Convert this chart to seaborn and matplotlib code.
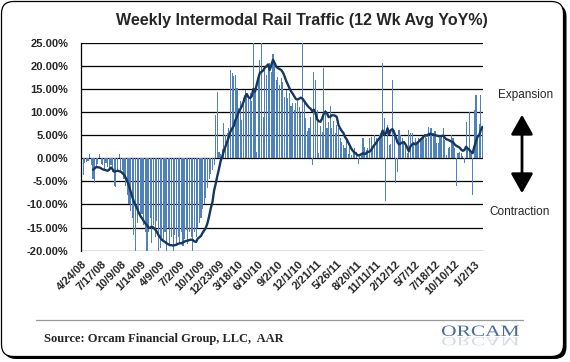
import numpy as np
import pandas as pd
import matplotlib
matplotlib.use('Agg')
import matplotlib.pyplot as plt
import seaborn as sns
from matplotlib.patches import FancyBboxPatch, FancyArrowPatch, PathPatch, ArrowStyle
from matplotlib.lines import Line2D
from matplotlib.textpath import TextPath
from matplotlib.font_manager import FontProperties
from matplotlib.transforms import Affine2D, IdentityTransform

# Weekly intermodal YoY % (bars) and the 12 week average (line)
weekly_yoy = [
    -4.3, -3.6, -1.0, -0.8, -0.5, 0.9, -1.5, -4.5, -5.3, -2.0, -1.2, 0.9,
    -1.2, -1.5, -2.5, -1.0, -2.0, -2.8, -1.5, -3.0, -6.0, -6.2, -2.5, 0.9,
    -3.0, -2.5, -4.5, -6.0, -8.0, -10.0, -11.5, -13.0, -16.5, -20.0, -14.0, -11.5,
    -13.0, -12.0, -14.5, -16.0, -20.0, -16.0, -13.0, -18.4, -14.5, -17.0, -13.5, -20.0,
    -19.5, -17.0, -18.0, -16.0, -20.0, -15.0, -19.0, -17.0, -20.0, -16.5, -19.0, -17.0,
    -18.5, -16.0, -19.0, -17.5, -15.5, -18.5, -16.0, -17.0, -20.0, -16.0, -17.0, -15.0,
    -14.0, -13.0, -11.0, -10.0, -8.5, -6.5, -4.5, -3.5, -2.5, -1.5, 9.4, 14.3,
    1.4, 1.0, 2.0, 7.6, 5.0, 5.5, 6.5, 19.1, 18.5, 17.7, 18.0, 15.1,
    10.8, 12.3, 8.3, 13.0, 14.8, 14.1, 13.0, 14.1, 12.3, 25.0, 15.1, 1.4,
    17.7, 21.3, 25.0, 9.0, 19.5, 18.0, 20.2, 20.5, 18.7, 22.5, 20.9, 16.9,
    17.6, 15.9, 17.3, 16.6, 13.3, 14.8, 13.0, 14.1, 11.2, 11.9, 10.5, 12.0,
    12.3, 11.0, 9.7, 25.0, 12.3, 8.7, 6.0, 6.5, 9.0, -1.4, 18.7, 16.9,
    10.5, 1.1, 7.0, 5.6, 19.5, 10.5, 6.5, 7.9, 11.2, 6.5, 8.0, 5.5,
    7.2, 6.5, 4.3, 3.6, 2.9, 2.2, 4.3, 1.0, 2.9, 0.7, 1.1, 2.2,
    1.4, -1.3, 0.4, 0.9, 4.3, 2.5, 1.8, 2.2, 4.3, 4.5, 2.5, 5.0,
    4.3, 3.6, 5.0, 5.4, 20.5, 8.7, -9.2, 7.2, 2.9, 3.0, 16.9, 6.1,
    -5.4, -2.9, 6.1, 5.0, 4.3, 3.6, 2.9, 1.1, 6.1, 5.4, 5.4, 3.6,
    4.3, 3.2, 4.3, 4.0, 4.3, 4.7, 5.0, 4.3, 6.8, 6.6, 6.5, 5.5,
    5.8, 3.2, 3.2, 4.3, 5.0, 6.5, 4.0, 0.7, 2.2, 2.5, 5.0, 4.4,
    2.2, -6.1, 1.1, 1.4, 1.1, 0.4, -1.1, 7.9, 2.0, 10.1, 1.1, -7.9,
    10.5, 13.7, 4.3, 7.5, 13.7, 6.6,
]

avg_12wk = [
    np.nan, np.nan, np.nan, np.nan, np.nan, np.nan, np.nan, -2.5, -2.2, -1.9, -1.95, -2.0,
    -2.2, -2.4, -2.5, -2.6, -2.7, -2.4, -2.0, -2.4, -2.9, -2.8, -2.7, -2.8,
    -2.9, -3.2, -3.6, -4.2, -5.0, -6.0, -7.2, -8.3, -9.4, -10.2, -10.9, -11.8,
    -12.5, -13.0, -13.6, -14.1, -14.5, -15.1, -15.0, -14.8, -15.0, -15.4, -15.9, -16.6,
    -17.1, -17.6, -17.9, -18.1, -18.4, -18.6, -18.8, -18.8, -18.9, -18.8, -18.7, -18.5,
    -18.4, -18.4, -18.2, -18.0, -17.9, -17.8, -17.7, -17.6, -17.7, -18.0, -18.1, -17.4,
    -17.1, -16.8, -16.1, -15.6, -15.0, -14.0, -12.5, -10.8, -9.5, -7.0, -5.5, -3.8,
    -2.3, -0.6, 0.4, 1.6, 2.6, 3.6, 4.6, 5.8, 6.4, 7.0, 8.2, 9.0,
    10.0, 10.6, 11.3, 12.2, 13.4, 13.9, 13.2, 13.0, 13.4, 15.0, 14.4, 15.9,
    17.3, 18.5, 18.7, 19.0, 19.6, 19.9, 20.3, 19.1, 20.2, 21.3, 20.6, 19.8,
    19.5, 19.3, 19.1, 18.6, 17.8, 16.8, 16.0, 15.2, 14.5, 14.0, 13.4, 12.8,
    12.7, 12.9, 13.1, 12.9, 12.4, 11.9, 11.4, 11.0, 10.7, 10.2, 10.5, 9.7,
    8.4, 8.0, 7.9, 8.6, 9.6, 10.1, 9.7, 8.9, 9.0, 9.3, 9.3, 9.2,
    8.9, 7.2, 6.5, 5.9, 5.5, 4.6, 4.1, 3.4, 2.7, 2.0, 1.5, 1.2,
    0.9, 0.6, 0.7, 0.9, 1.1, 0.9, 1.1, 1.4, 1.4, 1.8, 2.4, 2.9,
    3.3, 3.9, 4.3, 4.8, 6.0, 5.1, 5.4, 6.5, 5.2, 6.1, 6.3, 5.6,
    4.6, 3.5, 3.0, 3.2, 3.4, 3.5, 3.0, 2.3, 1.5, 2.6, 3.0, 3.2,
    3.0, 3.3, 3.6, 4.0, 4.3, 4.7, 5.0, 4.9, 5.2, 5.3, 5.2, 5.1,
    5.0, 4.9, 4.8, 4.7, 4.8, 4.9, 4.4, 4.1, 4.0, 3.8, 3.6, 3.5,
    3.0, 2.7, 2.5, 2.3, 1.9, 1.6, 1.8, 2.5, 2.1, 1.8, 1.4, 1.1,
    2.5, 3.6, 4.7, 5.0, 6.1, 6.8,
]

# category labels shown every 12 weeks
tick_labels = ['4/24/08', '7/17/08', '10/9/08', '1/14/09', '4/9/09', '7/2/09',
               '10/1/09', '12/23/09', '3/18/10', '6/10/10', '9/2/10', '12/1/10',
               '2/21/11', '5/26/11', '8/20/11', '11/11/11', '2/12/12', '5/7/12',
               '7/18/12', '10/10/12', '1/2/13']
y_ticks = [-20, -15, -10, -5, 0, 5, 10, 15, 20, 25]

df = pd.DataFrame({'week': np.arange(len(weekly_yoy)),
                   'yoy': weekly_yoy,
                   'avg': avg_12wk})

sns.set_style('white')
plt.rcParams['font.family'] = ['Liberation Sans', 'DejaVu Sans']

W, H = 570, 362
fig = plt.figure(figsize=(W / 100, H / 100), dpi=100)

# rounded frame with a dark shadow on the right/bottom
shadow = FancyBboxPatch((4, 3), 562.5, 354.5, boxstyle='round,pad=0,rounding_size=12',
                        transform=IdentityTransform(), facecolor='black',
                        edgecolor='black', lw=0, zorder=-3)
frame = FancyBboxPatch((1.5, 5.5), 562, 355, boxstyle='round,pad=0,rounding_size=12',
                       transform=IdentityTransform(), facecolor='white',
                       edgecolor='black', lw=0.9, zorder=-2)
fig.add_artist(shadow)
fig.add_artist(frame)

ax = fig.add_axes([80.7 / W, 1 - 250.7 / H, (483.3 - 80.7) / W, (250.7 - 42.7) / H])
ax.set_zorder(2)

sns.barplot(data=df, x='week', y='yoy', color='#4F81BD', saturation=1,
            width=0.7, linewidth=0, ax=ax)
for p in ax.patches:
    p.set_antialiased(False)
sns.lineplot(data=df, x='week', y='avg', color='#17375E', lw=1.7, ax=ax)

ax.set_xlim(-0.5, len(weekly_yoy) - 0.5)
ax.set_ylim(-20, 25)
ax.set_yticks(y_ticks)
ax.set_yticklabels([f'{v:.2f}%' for v in y_ticks], fontsize=8, fontweight='bold')
ax.set_xticks(np.arange(0, len(weekly_yoy), 12))
ax.set_xticklabels(tick_labels, rotation=45, ha='right', rotation_mode='anchor',
                   fontsize=8, fontweight='bold')
ax.tick_params(axis='y', length=0, pad=9)
ax.tick_params(axis='x', length=0, pad=6)
ax.set_xlabel('')
ax.set_ylabel('')
ax.yaxis.grid(True, color='black', lw=0.9)
ax.xaxis.grid(False)
ax.set_axisbelow(True)
for s in ['top', 'right', 'bottom']:
    ax.spines[s].set_visible(False)
ax.spines['left'].set_color('black')
ax.spines['left'].set_linewidth(0.9)

fig.text(302 / W, 1 - 20 / H, 'Weekly Intermodal Rail Traffic (12 Wk Avg YoY%)',
         ha='center', va='center', fontsize=11.5, fontweight='bold')

fig.text(526 / W, 1 - 95 / H, 'Expansion', ha='center', va='center', fontsize=8.5)
fig.text(520 / W, 1 - 212 / H, 'Contraction', ha='center', va='center', fontsize=8.5)
arrow = FancyArrowPatch((522 / W, 1 - 112 / H), (522 / W, 1 - 196 / H),
                        transform=fig.transFigure,
                        arrowstyle=ArrowStyle('<|-|>', head_length=0.8, head_width=0.45),
                        mutation_scale=15, lw=2, color='black')
fig.add_artist(arrow)

# footer
fig.add_artist(Line2D([36 / W, 523 / W], [42 / H, 42 / H], color='#9a9a9a', lw=0.9))
fig.text(44 / W, 23 / H, 'Source: Orcam Financial Group, LLC,  AAR',
         family=['Liberation Serif', 'DejaVu Serif'], fontweight='bold',
         fontsize=9, va='center')

# ORCAM logo with a faded reflection
tp = TextPath((0, 0), 'ORCAM', size=20, prop=FontProperties(family='Liberation Serif'))
ext = tp.get_extents()
sx, sy = 77 / ext.width, 10.5 / ext.height
logo_tr = Affine2D().translate(-ext.x0, -ext.y0).scale(sx, sy).translate(442, 26)
fig.add_artist(PathPatch(logo_tr.transform_path(tp), transform=IdentityTransform(),
                         facecolor='#4a6a99', edgecolor='none'))
refl_tr = Affine2D().translate(-ext.x0, -ext.y0).scale(sx, -0.8 * sy).translate(442, 25)
fig.add_artist(PathPatch(refl_tr.transform_path(tp), transform=IdentityTransform(),
                         facecolor='#c3ccd9', edgecolor='none', alpha=0.7))

fig.savefig('out.png', dpi=100)
